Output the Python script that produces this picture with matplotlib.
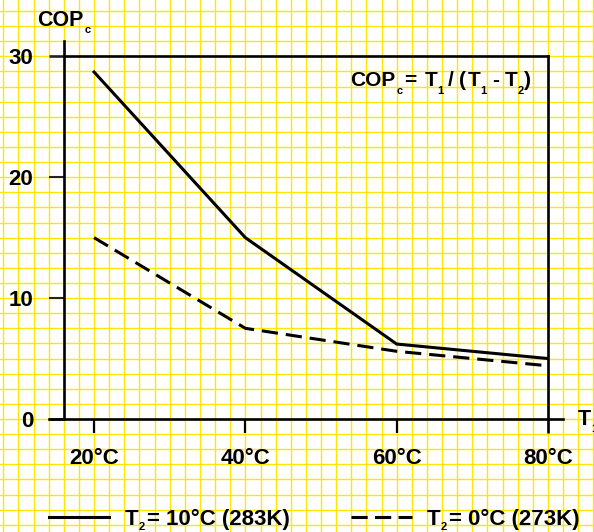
import matplotlib
matplotlib.use("Agg")
import matplotlib.pyplot as plt
from matplotlib.lines import Line2D
from matplotlib.transforms import IdentityTransform

plt.rcParams['font.family'] = ['Liberation Sans', 'DejaVu Sans']
plt.rcParams['font.weight'] = 'bold'

# ---- data ----
temps_c = [20, 40, 60, 80]
cop_t2_10 = [28.7, 15.0, 6.2, 5.0]   # T2 = 10 °C
cop_t2_0 = [15.0, 7.5, 5.6, 4.4]     # T2 = 0 °C
x_ticks = [20, 40, 60, 80]
x_tick_labels = ['20°C', '40°C', '60°C', '80°C']
y_ticks = [0, 10, 20, 30]
y_tick_labels = ['0', '10', '20', '30']

W, H, DPI = 594, 532, 100
fig = plt.figure(figsize=(W / DPI, H / DPI), dpi=DPI)
fig.patch.set_facecolor('white')

# ---- graph-paper background ----
GRID = '#FFE800'
sx, sy = 15.13, 15.11
gx0, gy0 = 3.3, 11.0
k = 0
while gx0 + k * sx < W:
    xf = (gx0 + k * sx) / W
    fig.add_artist(Line2D([xf, xf], [0, 1], transform=fig.transFigure,
                          color=GRID, lw=1.0, zorder=0))
    k += 1
k = 0
while gy0 + k * sy < H:
    yf = 1 - (gy0 + k * sy) / H
    fig.add_artist(Line2D([0, 1], [yf, yf], transform=fig.transFigure,
                          color=GRID, lw=1.0, zorder=0))
    k += 1

# ---- axes ----
left, right = 63.8 / W, 548.0 / W
bottom, top = 1 - 419.0 / H, 1 - 56.3 / H
ax = fig.add_axes([left, bottom, right - left, top - bottom])
ax.set_facecolor('none')
ax.set_xlim(16, 80)
ax.set_ylim(0, 30)

SPW = 1.9
for name in ['left', 'right', 'top', 'bottom']:
    ax.spines[name].set_linewidth(SPW)
    ax.spines[name].set_color('black')
ax.spines['left'].set_bounds(0, 31.25)
ax.spines['bottom'].set_bounds(14, 82)

ax.set_xticks(x_ticks)
ax.set_xticklabels(x_tick_labels)
ax.set_yticks(y_ticks)
ax.set_yticklabels(y_tick_labels)
ax.tick_params(axis='x', direction='out', length=10.0, width=1.6,
               labelsize=16, pad=11.0)
ax.tick_params(axis='y', direction='out', length=10.9, width=1.5,
               labelsize=16, pad=11.0, color='#222222')
for lab in ax.get_xticklabels() + ax.get_yticklabels():
    lab.set_fontweight('bold')
# top line and bottom line continue through their ticks
yt = ax.yaxis.get_major_ticks()
yt[0].tick1line.set_markeredgewidth(SPW)
yt[0].tick1line.set_color('black')
yt[-1].tick1line.set_markeredgewidth(SPW)
yt[-1].tick1line.set_color('black')
ax.xaxis.get_major_ticks()[-1].tick1line.set_markeredgewidth(SPW)

# ---- curves ----
LW = 2.2
ax.plot(temps_c, cop_t2_10, color='black', lw=LW, solid_joinstyle='miter',
        zorder=3)
dashed, = ax.plot(temps_c, cop_t2_0, color='black', lw=LW, zorder=3)
dashed.set_dashes((5.3, 2.6))

# ---- text with subscripts ----
renderer = fig.canvas.get_renderer()


def rich(x_px, base_px, parts, size=15, sub_size=8, drop=8):
    """parts: (text, is_subscript, gap_after_px); base_px from top."""
    x = x_px
    for s, sub, gap in parts:
        fs = sub_size if sub else size
        y = H - base_px - (drop if sub else 0)
        t = fig.text(x, y, s, fontsize=fs, fontweight='bold',
                     transform=IdentityTransform(), va='baseline', ha='left',
                     zorder=5)
        w = t.get_window_extent(renderer).width
        x += w + gap
    return x


# y-axis title
rich(37, 26, [('COP', False, 1), ('c', True, 0)], size=15.5, sub_size=8, drop=7)
# x-axis title (runs off the right edge)
rich(578, 425, [('T', False, 0), ('1', True, 0)], size=15.5, sub_size=8, drop=7)

# formula
rich(350, 86, [('COP', False, 1), ('c', True, 2), ('=', False, 8),
               ('T', False, 0), ('1', True, 4), ('/', False, 6),
               ('(', False, 1), ('T', False, 0), ('1', True, 6),
               ('-', False, 6), ('T', False, 0), ('2', True, 0),
               (')', False, 0)], size=15, sub_size=8, drop=8)

# ---- legend ----
leg_y = H - 517
fig.add_artist(Line2D([49, 109], [leg_y, leg_y], transform=IdentityTransform(),
                      color='black', lw=LW))
rich(125, 525, [('T', False, 0), ('2', True, 2), ('= 10°C (283K)', False, 0)],
     size=16, sub_size=8, drop=5)
lg = Line2D([351, 412], [leg_y, leg_y], transform=IdentityTransform(),
            color='black', lw=LW)
lg.set_dashes((5.3, 2.4))
fig.add_artist(lg)
rich(427, 525, [('T', False, 0), ('2', True, 2), ('= 0°C (273K)', False, 0)],
     size=16, sub_size=8, drop=5)

fig.savefig('out.png', dpi=DPI)
